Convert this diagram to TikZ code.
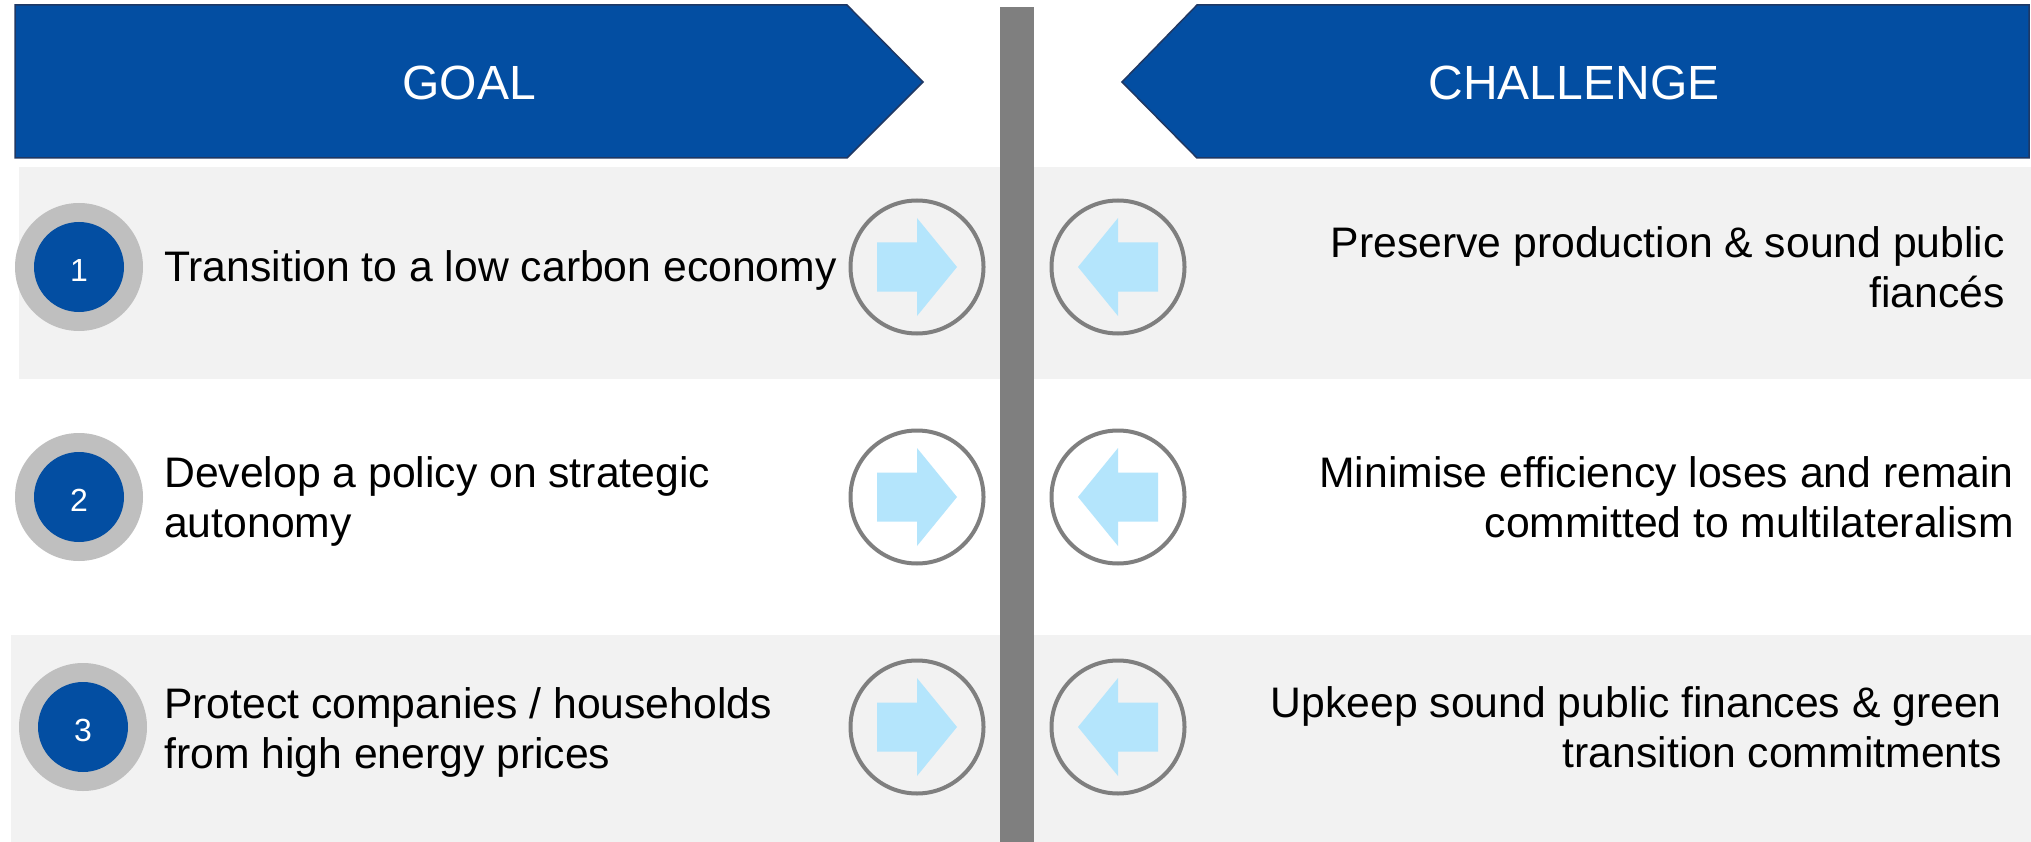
\documentclass[tikz,border=0pt]{standalone}
\usepackage{fontspec}
\setmainfont{Liberation Sans}
\definecolor{hdrblue}{HTML}{034EA2}
\definecolor{hdrline}{HTML}{1F3864}
\definecolor{panel}{HTML}{F2F2F2}
\definecolor{divgray}{HTML}{7F7F7F}
\definecolor{ringgray}{HTML}{BFBFBF}
\definecolor{arrowblue}{HTML}{B4E5FC}
\begin{document}
\begin{tikzpicture}[x=1pt,y=-1pt,
  header/.style={fill=hdrblue,draw=hdrline,line width=1.5pt,line join=miter},
  headtext/.style={text=white,font=\fontsize{48}{58}\selectfont,inner sep=0pt,anchor=base},
  bodytext/.style={font=\fontsize{42.7}{50}\selectfont,inner sep=0pt},
  ring/.style={circle,fill=ringgray,minimum size=128pt,inner sep=0pt},
  disc/.style={circle,fill=hdrblue,minimum size=90pt,inner sep=0pt},
  numtext/.style={text=white,font=\fontsize{32}{38}\selectfont,inner sep=0pt,anchor=base},
  arrowring/.style={circle,draw=divgray,line width=4pt,minimum size=133pt,inner sep=0pt},
  arrowfill/.style={fill=arrowblue}
]
\useasboundingbox (0,0) rectangle (2031,842);
\fill[white] (0,0) rectangle (2031,842);

% shaded rows
\fill[panel] (19,167) rectangle (1000,379);
\fill[panel] (1034,167) rectangle (2031,379);
\fill[panel] (11,635) rectangle (1000,842);
\fill[panel] (1034,635) rectangle (2031,842);

% central divider
\fill[divgray] (1000,7) rectangle (1034,842);

% headers
\draw[header] (15,5) -- (847,5) -- (923,82) -- (847,158) -- (15,158) -- cycle;
\draw[header] (2029,5) -- (1197,5) -- (1122,82) -- (1197,158) -- (2029,158) -- cycle;
\node[headtext] (goal) at (469,100) {GOAL};
\node[headtext] (challenge) at (1574,100) {CHALLENGE};

% numbered markers
\node[ring] (r1) at (79,267) {};
\node[disc] (d1) at (r1) {};
\node[numtext] (n1) at (79,281) {1};
\node[ring] (r2) at (79,497) {};
\node[disc] (d2) at (r2) {};
\node[numtext] (n2) at (79,511) {2};
\node[ring] (r3) at (83,727) {};
\node[disc] (d3) at (r3) {};
\node[numtext] (n3) at (83,741) {3};

% goal texts (base anchor = baseline of the last line)
\node[bodytext,anchor=base west,align=left] (g1) at (164,281) {Transition to a low carbon economy};
\node[bodytext,anchor=base west,align=left] (g2) at (164,537) {Develop a policy on strategic\\autonomy};
\node[bodytext,anchor=base west,align=left] (g3) at (164,768) {Protect companies / households\\from high energy prices};

% challenge texts
\node[bodytext,anchor=base east,align=right] (c1) at (2005,307) {Preserve production \& sound public\\fiancés};
\node[bodytext,anchor=base east,align=right] (c2) at (2014,537) {Minimise efficiency loses and remain\\committed to multilateralism};
\node[bodytext,anchor=base east,align=right] (c3) at (2002,767) {Upkeep sound public finances \& green\\transition commitments};

% arrow rings
\foreach \row/\yy in {1/267,2/497,3/727}{
  \node[arrowring] (ar\row) at (917,\yy) {};
  \node[arrowring] (al\row) at (1118,\yy) {};
  \begin{scope}[shift={(917,\yy)}]
    \fill[arrowfill] (-40,-24.5) -- (0,-24.5) -- (0,-49) -- (40,0) -- (0,49) -- (0,24.5) -- (-40,24.5) -- cycle;
  \end{scope}
  \begin{scope}[shift={(1118,\yy)}]
    \fill[arrowfill] (40,-24.5) -- (0,-24.5) -- (0,-49) -- (-40,0) -- (0,49) -- (0,24.5) -- (40,24.5) -- cycle;
  \end{scope}
}
\end{tikzpicture}
\end{document}
